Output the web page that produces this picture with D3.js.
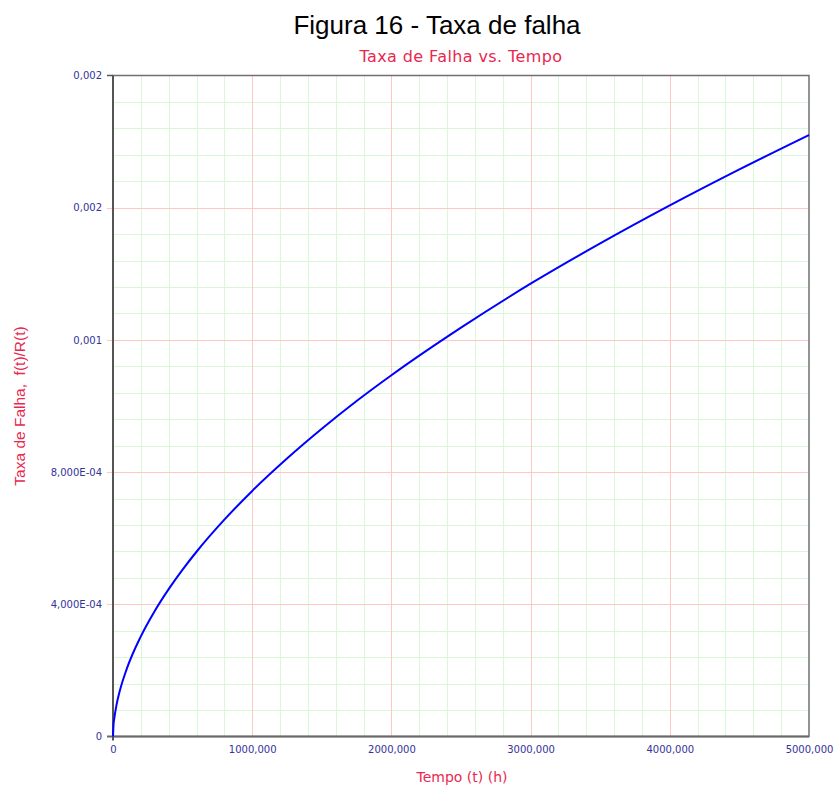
<!DOCTYPE html>
<html>
<head>
<meta charset="utf-8">
<script src="https://cdn.jsdelivr.net/npm/d3@7/dist/d3.min.js"></script>
<style>
  html, body { margin: 0; padding: 0; background: #ffffff; }
  svg { display: block; }
</style>
</head>
<body>
<script>
// Failure rate h(t) = f(t)/R(t) sampled along the time axis (hours)
const timeHours = [0, 4, 10, 25, 50, 100, 200, 300, 400, 500, 600, 800, 1000, 1250, 1500, 1750, 2000, 2500, 3000, 3500, 4000, 4500, 5000];
const failureRate = [0, 3.7e-5, 5.7e-5, 9.5e-5, 1.40e-4, 2.06e-4, 3.03e-4, 3.80e-4, 4.46e-4, 5.05e-4, 5.59e-4, 6.56e-4, 7.43e-4, 8.41e-4, 9.31e-4, 1.015e-3, 1.093e-3, 1.237e-3, 1.370e-3, 1.492e-3, 1.607e-3, 1.716e-3, 1.820e-3];

// Axis ticks and their printed labels
const xTicks = [0, 1000, 2000, 3000, 4000, 5000];
const xTickLabels = ["0", "1000,000", "2000,000", "3000,000", "4000,000", "5000,000"];
const yTicks = [0, 4e-4, 8e-4, 1.2e-3, 1.6e-3, 2.0e-3];
const yTickLabels = ["0", "4,000E-04", "8,000E-04", "0,001", "0,002", "0,002"];

const chartTitle = "Figura 16 - Taxa de falha";
const plotTitle = "Taxa de Falha vs. Tempo";
const xTitle = "Tempo (t) (h)";
const yTitle = "Taxa de Falha,  f(t)/R(t)";

const W = 837, H = 787;
const m = { left: 113, top: 75.5, right: 28, bottom: 50.5 };
const pw = W - m.left - m.right;   // 696
const ph = H - m.top - m.bottom;   // 661

const svg = d3.select("body").append("svg").attr("width", W).attr("height", H);

const x = d3.scaleLinear().domain([0, 5000]).range([m.left, m.left + pw]);
const y = d3.scaleLinear().domain([0, 0.002]).range([m.top + ph, m.top]);

const tickColor = "#333399";
const accent = "#e8284f";

// Minor grid
const minorX = d3.range(200, 5000, 200).filter(v => v % 1000 !== 0);
const minorY = d3.range(1, 25).map(i => i * 8e-5).filter((v, i) => (i + 1) % 5 !== 0);
const grid = svg.append("g");
grid.selectAll(".mx").data(minorX).join("line")
  .attr("x1", d => Math.round(x(d)) + 0.5).attr("x2", d => Math.round(x(d)) + 0.5)
  .attr("y1", m.top).attr("y2", m.top + ph)
  .attr("stroke", "#d9f7d9").attr("stroke-width", 1);
grid.selectAll(".my").data(minorY).join("line")
  .attr("y1", d => Math.round(y(d)) + 0.5).attr("y2", d => Math.round(y(d)) + 0.5)
  .attr("x1", m.left).attr("x2", m.left + pw)
  .attr("stroke", "#d9f7d9").attr("stroke-width", 1);

// Major grid
grid.selectAll(".Mx").data(xTicks.slice(1, -1)).join("line")
  .attr("x1", d => Math.round(x(d)) + 0.5).attr("x2", d => Math.round(x(d)) + 0.5)
  .attr("y1", m.top).attr("y2", m.top + ph)
  .attr("stroke", "#ffc6c6").attr("stroke-width", 1);
grid.selectAll(".My").data(yTicks.slice(1, -1)).join("line")
  .attr("y1", d => Math.round(y(d)) + 0.5).attr("y2", d => Math.round(y(d)) + 0.5)
  .attr("x1", m.left - 6).attr("x2", m.left + pw)
  .attr("stroke", "#ffc6c6").attr("stroke-width", 1);

// Frame
svg.append("rect")
  .attr("x", m.left).attr("y", m.top).attr("width", pw).attr("height", ph)
  .attr("fill", "none").attr("stroke", "#707070").attr("stroke-width", 1.5);
svg.append("line").attr("x1", m.left).attr("x2", m.left).attr("y1", m.top).attr("y2", m.top + ph)
  .attr("stroke", "#555").attr("stroke-width", 2);
svg.append("line").attr("x1", m.left - 6).attr("x2", m.left + pw).attr("y1", m.top + ph).attr("y2", m.top + ph)
  .attr("stroke", "#6a6a6a").attr("stroke-width", 2);
svg.append("line").attr("x1", m.left - 6).attr("x2", m.left).attr("y1", m.top).attr("y2", m.top)
  .attr("stroke", "#555").attr("stroke-width", 1.5);
svg.append("line").attr("x1", m.left).attr("x2", m.left).attr("y1", m.top + ph).attr("y2", m.top + ph + 4)
  .attr("stroke", "#555").attr("stroke-width", 2);

// Axes (labels only; lines drawn above)
const xAxis = d3.axisBottom(x).tickValues(xTicks).tickSize(0).tickPadding(9)
  .tickFormat((d, i) => xTickLabels[i]);
const gx = svg.append("g").attr("transform", `translate(0,${m.top + ph})`).call(xAxis);
gx.select(".domain").remove();
gx.selectAll("text").attr("fill", tickColor).style("font-family", "'DejaVu Sans', Verdana, sans-serif").style("font-size", "10px");

const yAxis = d3.axisLeft(y).tickValues(yTicks).tickSize(0).tickPadding(11)
  .tickFormat((d, i) => yTickLabels[i]);
const gy = svg.append("g").attr("transform", `translate(${m.left},0)`).call(yAxis);
gy.select(".domain").remove();
gy.selectAll("text").attr("fill", tickColor).style("font-family", "'DejaVu Sans', Verdana, sans-serif").style("font-size", "10px");

// Curve
const pts = timeHours.map((t, i) => [t, failureRate[i]]);
const line = d3.line().x(d => x(d[0])).y(d => y(d[1])).curve(d3.curveMonotoneX);
svg.append("path").datum(pts).attr("d", line)
  .attr("fill", "none").attr("stroke", "#0000ff").attr("stroke-width", 2)
  .attr("stroke-linejoin", "round");

// Titles
svg.append("text").attr("x", 437).attr("y", 34).attr("text-anchor", "middle")
  .style("font-family", "'Liberation Sans', Arial, sans-serif").style("font-size", "26px").attr("fill", "#000")
  .text(chartTitle);
svg.append("text").attr("x", 461).attr("y", 62).attr("text-anchor", "middle")
  .style("font-family", "'DejaVu Sans', Verdana, sans-serif").style("font-size", "16px")
  .style("letter-spacing", "0.4px").attr("fill", accent)
  .text(plotTitle);
svg.append("text").attr("x", 462).attr("y", 782).attr("text-anchor", "middle")
  .style("font-family", "'DejaVu Sans', Verdana, sans-serif").style("font-size", "14px").attr("fill", accent)
  .text(xTitle);
svg.append("text").attr("transform", "translate(25,406) rotate(-90)").attr("text-anchor", "middle")
  .style("font-family", "'Liberation Sans', Arial, sans-serif").style("font-size", "15.5px").attr("fill", accent)
  .style("white-space", "pre")
  .text(yTitle);
</script>
</body>
</html>
